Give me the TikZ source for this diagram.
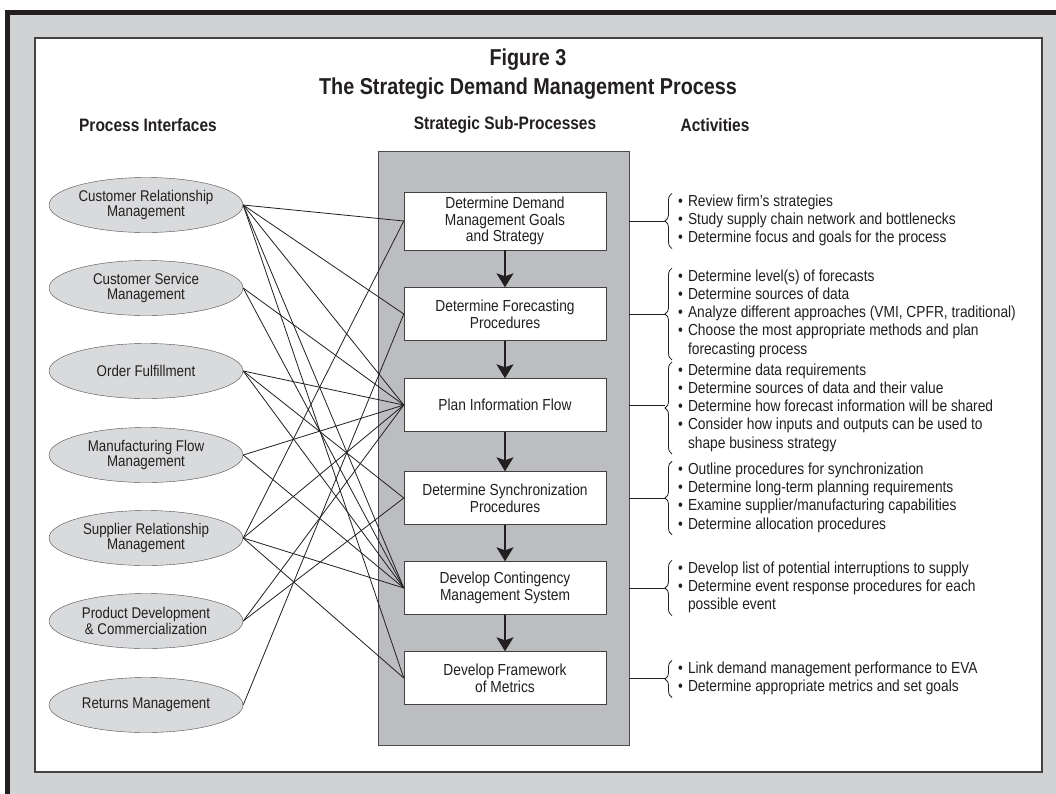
\documentclass[tikz,border=0pt]{standalone}
\usepackage{fontspec}
\setmainfont[FakeStretch=0.86]{Liberation Sans}
\usetikzlibrary{arrows.meta,shapes.geometric,decorations.pathreplacing}
\definecolor{frame}{HTML}{D1D2D4}
\definecolor{column}{HTML}{BCBDC0}
\definecolor{oval}{HTML}{D9DADC}
\definecolor{ink}{HTML}{231F20}

\begin{document}
\begin{tikzpicture}[x=1pt,y=-1pt,text=ink,
	iface/.style={draw=ink!80,fill=oval,shape=ellipse,inner sep=0pt,minimum width=194pt,minimum height=55pt,align=center,font=\fontsize{15.5}{15.5}\selectfont},
	sub/.style={draw=ink!85,fill=white,inner sep=0pt,minimum width=202pt,minimum height=53pt,align=center,font=\fontsize{16}{16.7}\selectfont},
	hdr/.style={font=\bfseries\fontsize{18}{20}\selectfont},
	acts/.style={anchor=west,inner sep=0pt,align=left,font=\fontsize{16}{18.3}\selectfont},
	link/.style={draw=ink,line width=0.8pt},
	flow/.style={draw=ink,line width=1.4pt,-{Stealth[length=14pt,width=17pt,inset=3pt]}},
	brc/.style={draw=ink,line width=0.8pt,decorate,decoration={brace,amplitude=7pt}}]
	%\draw[help lines] (0,0) grid (1056,793);
	\useasboundingbox (0,0) rectangle (1056,793);
	\clip (0,0) rectangle (1056,793);
	\fill[white] (0,0) rectangle (1056,793);
	\draw[line width=5pt,draw=ink,fill=frame] (7.5,12.5) rectangle (1090,830);
	\draw[line width=1.6pt,draw=ink!85,fill=white] (35,38) rectangle (1042,772);

	\node[align=center,font=\bfseries\fontsize{23}{29}\selectfont] (title) at (528,74) {Figure 3\\The Strategic Demand Management Process};
	\node[hdr] (hpi) at (148,125) {Process Interfaces};
	\node[hdr] (hsp) at (505,125) {Strategic Sub-Processes};
	\node[hdr] (hact) at (715,125) {Activities};

	% process interfaces
	\node[iface] (crm) at (146,205) {Customer Relationship\\Management};
	\node[iface] (csm) at (146,288) {Customer Service\\Management};
	\node[iface] (of) at (146,371) {Order Fulfillment};
	\node[iface] (mfm) at (146,455) {Manufacturing Flow\\Management};
	\node[iface] (srm) at (146,538) {Supplier Relationship\\Management};
	\node[iface] (pdc) at (146,621) {Product Development\\\& Commercialization};
	\node[iface] (rm) at (146,705) {Returns Management};

	% strategic sub-processes
	\node[draw=ink!80,fill=column,minimum width=251pt,minimum height=594pt] (col) at (503.5,448) {};
	\node[sub,minimum height=58pt] (b1) at (505,221) {Determine Demand\\Management Goals\\and Strategy};
	\node[sub] (b2) at (505,314) {Determine Forecasting\\Procedures};
	\node[sub] (b3) at (505,405) {Plan Information Flow};
	\node[sub] (b4) at (505,498) {Determine Synchronization\\Procedures};
	\node[sub] (b5) at (505,588) {Develop Contingency\\Management System};
	\node[sub] (b6) at (505,678) {Develop Framework\\of Metrics};
	\draw[flow] (b1)--(b2);
	\draw[flow] (b2)--(b3);
	\draw[flow] (b3)--(b4);
	\draw[flow] (b4)--(b5);
	\draw[flow] (b5)--(b6);

	% interface links
	\draw[link] (crm.east)--(b1.west);
	\draw[link] (crm.east)--(b2.west);
	\draw[link] (crm.east)--(b3.west);
	\draw[link] (crm.east)--(b5.west);
	\draw[link] (crm.east)--(b6.west);
	\draw[link] (csm.east)--(b3.west);
	\draw[link] (csm.east)--(b5.west);
	\draw[link] (of.east)--(b3.west);
	\draw[link] (of.east)--(b4.west);
	\draw[link] (of.east)--(b5.west);
	\draw[link] (mfm.east)--(b3.west);
	\draw[link] (mfm.east)--(b5.west);
	\draw[link] (srm.east)--(b1.west);
	\draw[link] (srm.east)--(b3.west);
	\draw[link] (srm.east)--(b5.west);
	\draw[link] (srm.east)--(b6.west);
	\draw[link] (pdc.east)--(b3.west);
	\draw[link] (pdc.east)--(b4.west);
	\draw[link] (rm.east)--(b2.west);

	% activities
	\node[acts] (l1) at (678,221) {\begin{tabular}{@{}l@{\hspace{5pt}}l@{}}
		\textbullet & Review firm’s strategies\\
		\textbullet & Study supply chain network and bottlenecks\\
		\textbullet & Determine focus and goals for the process\end{tabular}};
	\node[acts] (l2) at (678,314) {\begin{tabular}{@{}l@{\hspace{5pt}}l@{}}
		\textbullet & Determine level(s) of forecasts\\
		\textbullet & Determine sources of data\\
		\textbullet & Analyze different approaches (VMI, CPFR, traditional)\\
		\textbullet & Choose the most appropriate methods and plan\\
		 & forecasting process\end{tabular}};
	\node[acts] (l3) at (678,408) {\begin{tabular}{@{}l@{\hspace{5pt}}l@{}}
		\textbullet & Determine data requirements\\
		\textbullet & Determine sources of data and their value\\
		\textbullet & Determine how forecast information will be shared\\
		\textbullet & Consider how inputs and outputs can be used to\\
		 & shape business strategy\end{tabular}};
	\node[acts] (l4) at (678,498) {\begin{tabular}{@{}l@{\hspace{5pt}}l@{}}
		\textbullet & Outline procedures for synchronization\\
		\textbullet & Determine long-term planning requirements\\
		\textbullet & Examine supplier/manufacturing capabilities\\
		\textbullet & Determine allocation procedures\end{tabular}};
	\node[acts] (l5) at (678,588) {\begin{tabular}{@{}l@{\hspace{5pt}}l@{}}
		\textbullet & Develop list of potential interruptions to supply\\
		\textbullet & Determine event response procedures for each\\
		 & possible event\end{tabular}};
	\node[acts] (l6) at (678,679) {\begin{tabular}{@{}l@{\hspace{5pt}}l@{}}
		\textbullet & Link demand management performance to EVA\\
		\textbullet & Determine appropriate metrics and set goals\end{tabular}};

	\draw[brc] ([xshift=-6pt]l1.south west)--([xshift=-6pt]l1.north west);
	\draw[brc] ([xshift=-6pt]l2.south west)--([xshift=-6pt]l2.north west);
	\draw[brc] ([xshift=-6pt]l3.south west)--([xshift=-6pt]l3.north west);
	\draw[brc] ([xshift=-6pt]l4.south west)--([xshift=-6pt]l4.north west);
	\draw[brc] ([xshift=-6pt]l5.south west)--([xshift=-6pt]l5.north west);
	\draw[brc] ([xshift=-6pt]l6.south west)--([xshift=-6pt]l6.north west);
	\draw[link] (b1 -| col.east)--([xshift=-13pt]b1 -| l1.west);
	\draw[link] (b2 -| col.east)--([xshift=-13pt]b2 -| l2.west);
	\draw[link] (b3 -| col.east)--([xshift=-13pt]b3 -| l3.west);
	\draw[link] (b4 -| col.east)--([xshift=-13pt]b4 -| l4.west);
	\draw[link] (b5 -| col.east)--([xshift=-13pt]b5 -| l5.west);
	\draw[link] (b6 -| col.east)--([xshift=-13pt]b6 -| l6.west);
\end{tikzpicture}
\end{document}
